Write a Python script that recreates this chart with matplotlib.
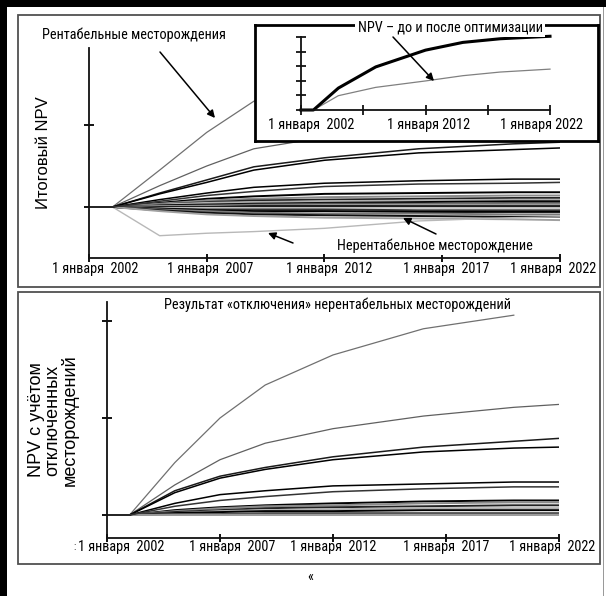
import numpy as np
import matplotlib
matplotlib.use('Agg')
import matplotlib.pyplot as plt
from matplotlib.patches import Rectangle, FancyArrowPatch
from matplotlib import font_manager as fm

# ---------------- data ----------------
YEARS = [2002, 2003, 2005, 2007, 2009, 2012, 2016, 2020, 2022]

# top panel: total NPV of all fields
top_profitable = [
    [0, 0, 0.45, 0.91, 1.29, 1.65, 1.95, 2.08, 2.15],
    [0, 0, 0.26, 0.50, 0.71, 0.85, 1.00, 1.10, 1.15],
    [0, 0, 0.17, 0.33, 0.49, 0.60, 0.71, 0.77, 0.79],
    [0, 0, 0.16, 0.30, 0.45, 0.57, 0.66, 0.70, 0.72],
    [0, 0, 0.09, 0.17, 0.24, 0.29, 0.32, 0.34, 0.34],
    [0, 0, 0.07, 0.14, 0.19, 0.25, 0.28, 0.29, 0.30],
]
top_bundle = [
    [0, 0, 0.05, 0.10, 0.13, 0.16, 0.17, 0.18, 0.18],
    [0, 0, 0.04, 0.08, 0.10, 0.12, 0.13, 0.14, 0.14],
    [0, 0, 0.03, 0.06, 0.08, 0.09, 0.10, 0.11, 0.11],
    [0, 0, 0.03, 0.05, 0.06, 0.07, 0.08, 0.09, 0.09],
    [0, 0, 0.02, 0.03, 0.04, 0.05, 0.06, 0.07, 0.07],
    [0, 0, 0.01, 0.02, 0.03, 0.04, 0.04, 0.05, 0.05],
    [0, 0, 0.01, 0.01, 0.02, 0.02, 0.03, 0.03, 0.03],
    [0, 0, 0.00, 0.00, 0.01, 0.01, 0.01, 0.01, 0.01],
    [0, 0, -0.01, -0.01, -0.01, -0.01, -0.01, -0.01, -0.01],
    [0, 0, -0.02, -0.03, -0.03, -0.03, -0.04, -0.04, -0.04],
    [0, 0, -0.02, -0.04, -0.05, -0.05, -0.06, -0.06, -0.06],
    [0, 0, -0.03, -0.05, -0.07, -0.08, -0.08, -0.09, -0.09],
    [0, 0, -0.04, -0.07, -0.09, -0.10, -0.11, -0.12, -0.12],
    [0, 0, -0.05, -0.09, -0.11, -0.13, -0.14, -0.15, -0.16],
]
top_unprofitable = [0, 0, -0.35, -0.32, -0.30, -0.26, -0.17, -0.13, -0.12]

# bottom panel: NPV with unprofitable fields switched off
bot_profitable = [
    [0, 0, 0.54, 1.00, 1.34, 1.65, 1.92, 2.06, np.nan],
    [0, 0, 0.31, 0.57, 0.74, 0.89, 1.02, 1.11, 1.14],
    [0, 0, 0.25, 0.40, 0.49, 0.60, 0.70, 0.76, 0.79],
    [0, 0, 0.23, 0.38, 0.47, 0.57, 0.65, 0.69, 0.70],
    [0, 0, 0.12, 0.21, 0.25, 0.30, 0.32, 0.34, 0.34],
    [0, 0, 0.09, 0.15, 0.19, 0.24, 0.27, 0.29, 0.29],
]
bot_bundle = [
    [0, 0, 0.05, 0.08, 0.10, 0.12, 0.14, 0.15, 0.15],
    [0, 0, 0.04, 0.07, 0.09, 0.10, 0.12, 0.13, 0.13],
    [0, 0, 0.03, 0.05, 0.07, 0.08, 0.09, 0.10, 0.10],
    [0, 0, 0.02, 0.04, 0.05, 0.06, 0.07, 0.07, 0.07],
    [0, 0, 0.02, 0.03, 0.04, 0.04, 0.05, 0.05, 0.05],
    [0, 0, 0.01, 0.01, 0.02, 0.02, 0.02, 0.02, 0.02],
    [0, 0, 0.00, 0.00, 0.00, 0.00, 0.00, 0.00, 0.00],
]

# inset: total NPV before / after optimisation
INSET_YEARS = [2002, 2003, 2005, 2008, 2012, 2015, 2018, 2022]
npv_after = [0, 0, 1.50, 2.95, 4.10, 4.63, 4.88, 5.05]
npv_before = [0, 0, 0.98, 1.55, 1.99, 2.35, 2.60, 2.80]

MAIN_TICKS = [2002, 2007, 2012, 2017, 2022]
MAIN_LABELS = ['1 января  2002', '1 января  2007', '1 января  2012',
               '1 января  2017', '1 января  2022']
INSET_TICKS = [2002, 2007, 2012, 2017, 2022]
INSET_LABELS = ['1 января  2002', '', '1 января 2012', '', '1 января 2022']

# ---------------- fonts ----------------
names = {f.name for f in fm.fontManager.ttflist}
NARROW = 'Liberation Sans'
for cand in ['Roboto Condensed', 'PT Sans Narrow', 'Archivo Narrow',
             'Asap Condensed', 'Barlow Semi Condensed']:
    if cand in names:
        NARROW = cand
        break
NARROW_F = [NARROW, 'DejaVu Sans']
REG = ['Liberation Sans', 'DejaVu Sans']
plt.rcParams['font.family'] = REG

W, H = 606, 596
fig = plt.figure(figsize=(W / 100, H / 100), dpi=100)
PT = 0.72  # points per pixel at 100 dpi


def fx(x):
    return x / W


def fy(y):
    return 1 - y / H


def rect(l, t, r, b):
    return [l / W, 1 - b / H, (r - l) / W, (b - t) / H]


# outer page frame
fig.add_artist(Rectangle((0, fy(7)), 1, 7 / H, transform=fig.transFigure,
                         fc='black', ec='none', zorder=5))
fig.add_artist(Rectangle((0, 0), 7 / W, 1, transform=fig.transFigure,
                         fc='black', ec='none', zorder=5))
fig.add_artist(Rectangle((fx(603), 0), 1 / W, fy(7), transform=fig.transFigure,
                         fc='#9a9a9a', ec='none', zorder=5))

# panel frames
for (l, t, r, b) in [(18, 15, 600, 287), (18, 292, 600, 564)]:
    fig.add_artist(Rectangle((fx(l), fy(b)), (r - l) / W, (b - t) / H,
                             transform=fig.transFigure, fill=False,
                             ec='#505050', lw=1.3, zorder=1))

FS = 10.3


def tick_texts(ax, ticks, labels, dxs, dy):
    ax.set_xticks(ticks)
    ax.set_xticklabels([])
    for t, lab, dx in zip(ticks, labels, dxs):
        if lab:
            ax.annotate(lab, xy=(t, 0), xycoords=('data', 'axes fraction'),
                        xytext=(dx * PT, -dy * PT), textcoords='offset points',
                        ha='center', va='center', fontfamily=NARROW_F,
                        fontsize=FS, annotation_clip=False)


def style_axes(ax, ylim, yticks, dxs, dy):
    ax.set_xlim(2002, 2022)
    ax.set_ylim(*ylim)
    ax.patch.set_alpha(0)
    for s in ['top', 'right']:
        ax.spines[s].set_visible(False)
    for s in ['left', 'bottom']:
        ax.spines[s].set_linewidth(1.3)
        ax.spines[s].set_color('#111111')
    ax.set_yticks(yticks)
    ax.set_yticklabels([])
    tick_texts(ax, MAIN_TICKS, MAIN_LABELS, dxs, dy)
    ax.tick_params(axis='x', direction='inout', length=6, width=1.3)
    ax.tick_params(axis='y', direction='inout', length=7, width=1.3)


BUNDLE_COLORS = ['#000000', '#8a8a8a', '#222222', '#b0b0b0', '#000000',
                 '#555555', '#999999', '#000000', '#c0c0c0', '#333333',
                 '#000000', '#7a7a7a', '#111111', '#a0a0a0']
PROF_COLORS = ['#707070', '#606060', '#1a1a1a', '#000000', '#000000', '#333333']

# ---------------- top panel ----------------
ax1 = fig.add_axes(rect(89, 48, 560, 258))
style_axes(ax1, ((207 - 258) / 82, (207 - 48) / 82), [0, 1],
           [6, 3, 5, 4, -7], 11)
for i, v in enumerate(top_bundle):
    ax1.plot(YEARS, v, color=BUNDLE_COLORS[i % len(BUNDLE_COLORS)], lw=1.4)
ax1.plot(YEARS, top_unprofitable, color='#b8b8b8', lw=1.0)
for i, v in enumerate(top_profitable):
    ax1.plot(YEARS, v, color=PROF_COLORS[i], lw=1.1 if i > 1 else 0.9)

# inset frame + inset axes
axf = fig.add_axes(rect(255, 25, 598, 141))
axf.set_zorder(2)
axf.set_facecolor('white')
axf.set_xticks([])
axf.set_yticks([])
for s in axf.spines.values():
    s.set_linewidth(2.0)
    s.set_color('black')

axi = fig.add_axes(rect(301, 37, 550, 110))
axi.set_zorder(3)
axi.patch.set_alpha(0)
axi.set_xlim(2002, 2022)
axi.set_ylim(0, 5)
for s in ['top', 'right']:
    axi.spines[s].set_visible(False)
for s in ['left', 'bottom']:
    axi.spines[s].set_linewidth(1.3)
    axi.spines[s].set_color('#111111')
axi.set_yticks([0, 1, 2, 3, 4, 5])
axi.set_yticklabels([])
tick_texts(axi, INSET_TICKS, INSET_LABELS, [10, 0, 3, 0, -9], 15)
axi.tick_params(axis='x', direction='inout', length=7, width=1.2)
axi.tick_params(axis='y', direction='inout', length=7, width=1.2)
axi.plot(INSET_YEARS, npv_before, color='#808080', lw=0.9, clip_on=False)
axi.plot(INSET_YEARS, npv_after, color='black', lw=2.2, clip_on=False)

fig.text(fx(450), fy(28), 'NPV – до и после оптимизации', ha='center', va='center',
         fontfamily=NARROW_F, fontsize=FS, zorder=10,
         bbox=dict(fc='white', ec='none', pad=1.5))

# ---------------- bottom panel ----------------
ax2 = fig.add_axes(rect(107, 302, 559, 538))
style_axes(ax2, ((515 - 538) / 97, (515 - 302) / 97), [0, 1, 2],
           [14, 12, 0, 0, -7], 9)
for i, v in enumerate(bot_bundle):
    ax2.plot(YEARS, v, color=BUNDLE_COLORS[i % len(BUNDLE_COLORS)], lw=1.4)
for i, v in enumerate(bot_profitable):
    ax2.plot(YEARS, v, color=PROF_COLORS[i], lw=1.1 if i > 1 else 0.9)

# ---------------- texts & arrows ----------------
fig.text(fx(43), fy(153), 'Итоговый NPV', rotation=90, ha='center', va='center',
         fontfamily=REG, fontsize=12)
fig.text(fx(53), fy(420), 'NPV с учётом\nотключенных\nместорождений', rotation=90,
         ha='center', va='center', fontfamily=REG, fontsize=13, linespacing=0.95)
fig.text(fx(134), fy(35), 'Рентабельные месторождения', ha='center', va='center',
         fontfamily=NARROW_F, fontsize=FS)
fig.text(fx(435), fy(246), 'Нерентабельное месторождение', ha='center', va='center',
         fontfamily=NARROW_F, fontsize=FS, zorder=6,
         bbox=dict(fc='white', ec='none', pad=1.0))
fig.text(fx(337), fy(305), 'Результат «отключения» нерентабельных месторождений',
         ha='center', va='center', fontfamily=NARROW_F, fontsize=FS)
fig.text(fx(310), fy(577), '«', ha='center', va='center', fontfamily=NARROW_F, fontsize=FS)
fig.text(fx(74), fy(547), ':', ha='center', va='center', fontfamily=NARROW_F, fontsize=7)


def arrow(x0, y0, x1, y1, z=6):
    fig.add_artist(FancyArrowPatch((fx(x0), fy(y0)), (fx(x1), fy(y1)),
                                   transform=fig.transFigure, arrowstyle='-|>',
                                   mutation_scale=11, lw=1.1, color='black',
                                   shrinkA=0, shrinkB=0, zorder=z))


arrow(160, 52, 215, 118)
arrow(293, 243, 268, 233)
arrow(436, 234, 403, 218)
arrow(393, 37, 434, 81, z=12)

fig.savefig('out.png', dpi=100)
